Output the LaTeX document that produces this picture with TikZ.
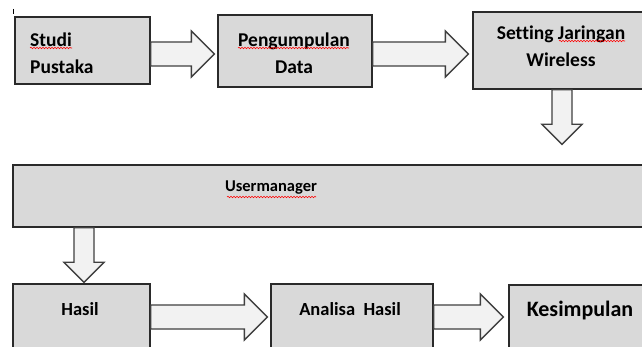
\documentclass[tikz,border=0pt]{standalone}
\usepackage{fontspec}
\setmainfont{Carlito}[Ligatures=NoCommon]
\usetikzlibrary{calc,decorations.pathmorphing}
\definecolor{boxfill}{HTML}{D9D9D9}
\definecolor{arrfill}{HTML}{F2F2F2}
\definecolor{boxline}{HTML}{2A2A2A}
\definecolor{arrline}{HTML}{404040}
\tikzset{
  box/.style={draw=boxline, fill=boxfill, line width=1.3pt, rectangle, inner sep=0pt},
  txt/.style={font=\fontsize{19.5}{27}\selectfont\bfseries, text=black, inner sep=0pt},
  barrow/.style={draw=arrline, fill=arrfill, line width=1.3pt, line join=miter},
  squig/.style={draw=red, line width=0.6pt, decorate, decoration={snake, amplitude=0.7pt, segment length=3pt}}
}
\newcommand{\blockR}[2]{%
  \draw[barrow] ($(#1)+(0,-12)$) -- ($(#2)+(-23,-12)$) -- ($(#2)+(-23,-23)$) -- (#2)
    -- ($(#2)+(-23,23)$) -- ($(#2)+(-23,12)$) -- ($(#1)+(0,12)$) -- cycle;}
\newcommand{\blockD}[2]{%
  \draw[barrow] ($(#1)+(-10,0)$) -- ($(#2)+(-10,-20)$) -- ($(#2)+(-20,-20)$) -- (#2)
    -- ($(#2)+(20,-20)$) -- ($(#2)+(10,-20)$) -- ($(#1)+(10,0)$) -- cycle;}
\begin{document}
\begin{tikzpicture}[x=1pt,y=-1pt]
\useasboundingbox (0,0) rectangle (642,347);
\clip (0,0) rectangle (642,347);
\fill[white] (0,0) rectangle (642,347);
% boxes
\node[box, minimum width=135pt, minimum height=67pt] (studi) at (82.5,50.5) {};
\node[box, minimum width=154pt, minimum height=72pt] (peng) at (295,51) {};
\node[box, minimum width=190pt, minimum height=77pt] (set) at (568,50.5) {};
\node[box, minimum width=650pt, minimum height=62pt] (user) at (338,196) {};
\node[box, minimum width=137pt, minimum height=80pt] (hasil) at (81.5,324) {};
\node[box, minimum width=162pt, minimum height=80pt] (anal) at (352,324) {};
\node[box, minimum width=160pt, minimum height=80pt] (kes) at (589,325) {};
% texts
\node[txt, anchor=west, align=left] (studiT) at (30,53.5) {Studi\\Pustaka};
\node[txt, align=center] (pengT) at (294,53) {Pengumpulan\\Data};
\node[txt, align=center] (setT) at (561,46.5) {Setting Jaringan\\Wireless};
\node[txt, font=\fontsize{16.5}{20}\selectfont\bfseries] (userT) at (271,188) {Usermanager};
\node[txt, font=\fontsize{18.5}{22}\selectfont\bfseries] (hasilT) at (80,309) {Hasil};
\node[txt, font=\fontsize{18.5}{22}\selectfont\bfseries] (analT) at (350,309) {Analisa\ \ Hasil};
\node[txt, font=\fontsize{22}{26}\selectfont\bfseries] (kesT) at (580,311) {Kesimpulan};
% connector endpoints
\coordinate (a1s) at (studi.east |- 0,54);
\coordinate (a1t) at ($(peng.west |- 0,54)+(-3,0)$);
\coordinate (a2s) at (peng.east |- 0,54);
\coordinate (a2t) at ($(set.west |- 0,54)+(-4,0)$);
\coordinate (a3s) at (set.south -| 562,0);
\coordinate (a3t) at ($(user.north -| 562,0)+(0,-20)$);
\coordinate (a4s) at (user.south -| 84,0);
\coordinate (a4t) at ($(hasil.north -| 84,0)+(0,-1)$);
\coordinate (a5s) at (hasil.east |- 0,317);
\coordinate (a5t) at ($(anal.west |- 0,317)+(-3,0)$);
\coordinate (a6s) at (anal.east |- 0,317);
\coordinate (a6t) at ($(kes.west |- 0,317)+(-5,0)$);
\blockR{a1s}{a1t}
\blockR{a2s}{a2t}
\blockD{a3s}{a3t}
\blockD{a4s}{a4t}
\blockR{a5s}{a5t}
\blockR{a6s}{a6t}
% spell-check squiggles
\draw[squig] (30,48) -- (72,48);
\draw[squig] (238,48) -- (349,48);
\draw[squig] (559,41) -- (625,41);
\draw[squig] (227,197) -- (316,197);
% small tick
\draw[black, line width=0.8pt] (13,9) -- (13,14);
\end{tikzpicture}
\end{document}
